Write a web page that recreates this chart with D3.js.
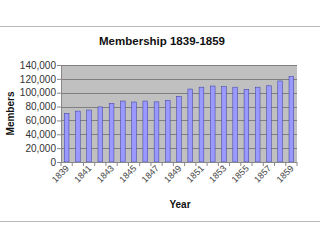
<!DOCTYPE html>
<html>
<head>
<meta charset="utf-8">
<script src="https://cdn.jsdelivr.net/npm/d3@7"></script>
<style>
  body { margin: 0; background: #fff; }
  svg { display: block; font-family: Arial, "Liberation Sans", sans-serif; }
</style>
</head>
<body>
<div class="container"></div>
<script>
const years = [1839, 1840, 1841, 1842, 1843, 1844, 1845, 1846, 1847, 1848, 1849,
               1850, 1851, 1852, 1853, 1854, 1855, 1856, 1857, 1858, 1859];
const members = [70300, 73500, 75000, 79500, 84700, 88000, 86600, 88000, 86800, 89000, 94800,
                 105300, 108000, 109700, 108700, 108000, 105000, 108000, 110000, 117000, 123600];
const yTicks = [0, 20000, 40000, 60000, 80000, 100000, 120000, 140000];

const width = 320, height = 240;
const plotL = 61, plotR = 297, plotT = 65, plotB = 162;

const svg = d3.select(".container").append("svg")
  .attr("width", width).attr("height", height);

// frame lines top and bottom
svg.append("line").attr("x1", 0).attr("x2", width).attr("y1", 26.5).attr("y2", 26.5)
  .attr("stroke", "#b8b8b8").attr("stroke-width", 1.2);
svg.append("line").attr("x1", 0).attr("x2", width).attr("y1", 221.5).attr("y2", 221.5)
  .attr("stroke", "#b8b8b8").attr("stroke-width", 1.2);

const x = d3.scaleBand().domain(years).range([plotL, plotR]).paddingInner(0.58).paddingOuter(0.29);
const y = d3.scaleLinear().domain([0, 140000]).range([plotB, plotT]);

svg.append("rect").attr("x", plotL).attr("y", plotT)
  .attr("width", plotR - plotL).attr("height", plotB - plotT)
  .attr("fill", "#c0c0c0");

svg.selectAll("line.grid")
  .data(yTicks.slice(1))
  .join("line")
  .attr("class", "grid")
  .attr("x1", plotL).attr("x2", plotR)
  .attr("y1", d => Math.round(y(d)) + 0.5).attr("y2", d => Math.round(y(d)) + 0.5)
  .attr("stroke", "#808080").attr("stroke-width", 1);

svg.selectAll("rect.bar")
  .data(years)
  .join("rect")
  .attr("class", "bar")
  .attr("x", d => x(d))
  .attr("width", x.bandwidth())
  .attr("y", (d, i) => y(members[i]))
  .attr("height", (d, i) => plotB - y(members[i]))
  .attr("fill", "#9999ff")
  .attr("stroke", "#3a3a9a").attr("stroke-width", 0.5);

// y axis
const yAxis = svg.append("g").attr("transform", `translate(${plotL},0)`)
  .call(d3.axisLeft(y).tickValues(yTicks).tickSize(4).tickSizeOuter(0)
    .tickFormat(d3.format(",")));
yAxis.select(".domain").attr("stroke", "#888");
yAxis.selectAll(".tick line").attr("stroke", "#888");
yAxis.selectAll(".tick text").attr("font-size", 10).attr("fill", "#333").attr("x", -5)
  .attr("font-family", "Arial, 'Liberation Sans', sans-serif");

// x axis
svg.append("line").attr("x1", plotL).attr("x2", plotR).attr("y1", plotB + 0.5).attr("y2", plotB + 0.5)
  .attr("stroke", "#888");
svg.selectAll("line.xt")
  .data(d3.range(years.length + 1))
  .join("line")
  .attr("class", "xt")
  .attr("x1", i => plotL + (plotR - plotL) * i / years.length)
  .attr("x2", i => plotL + (plotR - plotL) * i / years.length)
  .attr("y1", plotB).attr("y2", plotB + 4)
  .attr("stroke", "#888");

svg.selectAll("text.xl")
  .data(years.filter((d, i) => i % 2 === 0))
  .join("text")
  .attr("class", "xl")
  .attr("transform", d => `translate(${x(d) + x.bandwidth() / 2 + 3},${plotB + 7}) rotate(-45)`)
  .attr("text-anchor", "end")
  .attr("font-size", 9)
  .attr("fill", "#444")
  .text(d => d);

svg.append("text").attr("x", 162).attr("y", 45).attr("text-anchor", "middle")
  .attr("font-size", 11.5).attr("font-weight", "bold").attr("fill", "#111")
  .text("Membership 1839-1859");

svg.append("text").attr("x", 180).attr("y", 208).attr("text-anchor", "middle")
  .attr("font-size", 10).attr("font-weight", "bold").attr("fill", "#111")
  .text("Year");

svg.append("text").attr("transform", `translate(14,${(plotT + plotB) / 2}) rotate(-90)`)
  .attr("text-anchor", "middle")
  .attr("font-size", 10).attr("font-weight", "bold").attr("fill", "#111")
  .text("Members");
</script>
</body>
</html>
